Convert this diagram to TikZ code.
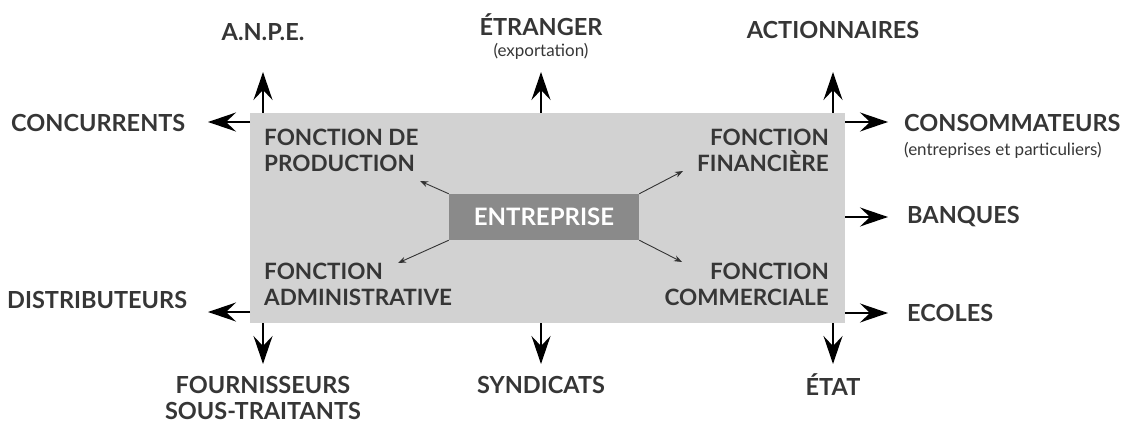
\documentclass[tikz,border=0pt]{standalone}
\usepackage{fontspec}
\setmainfont{Lato}
\usetikzlibrary{arrows.meta}
\definecolor{txt}{HTML}{363636}
\definecolor{panel}{HTML}{D2D2D2}
\definecolor{core}{HTML}{8A8A8A}
\begin{document}
\begin{tikzpicture}[x=1pt,y=-1pt,
  lbl/.style={font=\bfseries\fontsize{23.5}{26}\selectfont, text=txt, inner sep=0pt, align=center},
  sub/.style={font=\fontsize{17}{19}\selectfont, text=txt, inner sep=0pt},
  fn/.style={font=\bfseries\fontsize{22.5}{26}\selectfont, text=txt, inner sep=0pt},
  big/.style={-{Stealth[length=28pt,width=19pt,inset=10pt]}, line width=2pt, black},
  small/.style={-{Stealth[length=8pt,width=6pt]}, line width=0.9pt, black!80}]
\useasboundingbox (0,0) rectangle (1132,425);
% panel
\fill[panel] (250,113) rectangle (845,323);
\node[fill=core, text=white, font=\bfseries\fontsize{24}{26}\selectfont, minimum width=190pt, minimum height=46pt, inner sep=0pt] (ent) at (544,217) {ENTREPRISE};
% internal functions
\node[fn, anchor=west, align=left] (prod) at (264,150) {FONCTION DE\\PRODUCTION};
\node[fn, anchor=east, align=right] (fin) at (829,150) {FONCTION\\FINANCIÈRE};
\node[fn, anchor=west, align=left] (adm) at (264,284) {FONCTION\\ADMINISTRATIVE};
\node[fn, anchor=east, align=right] (com) at (829,284) {FONCTION\\COMMERCIALE};
\coordinate (ptl) at (420,181);
\coordinate (ptr) at (683,171);
\coordinate (pbl) at (398,263);
\coordinate (pbr) at (682,262);
\draw[small] (ent.north west) -- (ptl);
\draw[small] (ent.north east) -- (ptr);
\draw[small] (ent.south west) -- (pbl);
\draw[small] (ent.south east) -- (pbr);
% external labels
\node[lbl] (anpe) at (263,32) {A.N.P.E.};
\node[lbl] (etr) at (541,25) {ÉTRANGER};
\node[sub] (exp) at (541,51) {(exportation)};
\node[lbl] (act) at (833,30) {ACTIONNAIRES};
\node[lbl, anchor=west] (conc) at (11,123) {CONCURRENTS};
\node[lbl, anchor=west] (cons) at (904,123) {CONSOMMATEURS};
\node[sub, anchor=west] (part) at (904,150) {(entreprises et particuliers)};
\node[lbl, anchor=west] (banq) at (907,217) {BANQUES};
\node[lbl, anchor=west] (ecol) at (907,313) {ECOLES};
\node[lbl, anchor=west] (dist) at (7,300) {DISTRIBUTEURS};
\node[lbl] (four) at (263,398) {FOURNISSEURS\\SOUS-TRAITANTS};
\node[lbl] (synd) at (541,385) {SYNDICATS};
\node[lbl] (etat) at (833,385) {ÉTAT};
% arrow anchors on panel
\coordinate (u1) at (263,113); \coordinate (u1t) at (263,72);
\coordinate (u2) at (541,113); \coordinate (u2t) at (541,72);
\coordinate (u3) at (833,113); \coordinate (u3t) at (833,72);
\coordinate (d1) at (263,323); \coordinate (d1t) at (263,364);
\coordinate (d2) at (541,323); \coordinate (d2t) at (541,364);
\coordinate (d3) at (833,323); \coordinate (d3t) at (833,364);
\coordinate (l1) at (250,122); \coordinate (l1t) at (208,122);
\coordinate (l2) at (250,312); \coordinate (l2t) at (208,312);
\coordinate (r1) at (845,122); \coordinate (r1t) at (888,122);
\coordinate (r2) at (845,217); \coordinate (r2t) at (888,217);
\coordinate (r3) at (845,313); \coordinate (r3t) at (888,313);
\foreach \a in {u1,u2,u3,d1,d2,d3,l1,l2,r1,r2,r3} {\draw[big] (\a) -- (\a t);}
\end{tikzpicture}
\end{document}
